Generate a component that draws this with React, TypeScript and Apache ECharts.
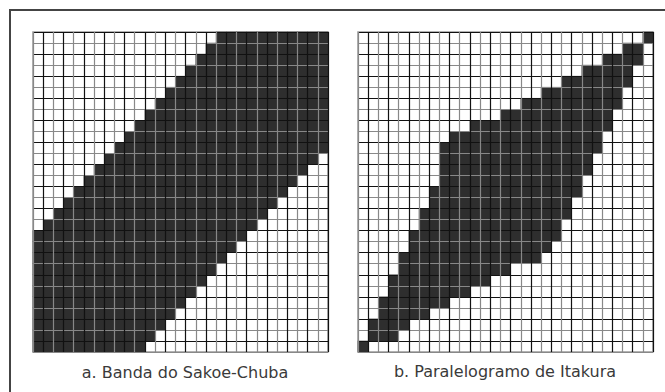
import React, { useEffect, useRef } from "react";
import * as echarts from "echarts";

// 29 x 29 cell grids (columns left to right, rows bottom to top)
const columns = Array.from({ length: 29 }, (_, i) => String(i + 1));
const rows = Array.from({ length: 29 }, (_, i) => String(i + 1));

// first / last dark column of each row, listed from the top row down
const sakoeStart = [18, 17, 16, 15, 14, 13, 12, 11, 10, 9, 8, 7, 6, 5, 4, 3, 2, 1, 0, 0, 0, 0, 0, 0, 0, 0, 0, 0, 0];
const sakoeEnd = [28, 28, 28, 28, 28, 28, 28, 28, 28, 28, 28, 27, 26, 25, 24, 23, 22, 21, 20, 19, 18, 17, 16, 15, 14, 13, 12, 11, 10];

const itakuraStart = [28, 26, 24, 22, 20, 18, 16, 14, 11, 9, 8, 8, 8, 8, 7, 7, 6, 6, 5, 5, 4, 4, 3, 3, 2, 2, 1, 1, 0];
const itakuraEnd = [28, 27, 27, 26, 26, 25, 25, 24, 24, 23, 23, 22, 22, 21, 21, 20, 20, 19, 19, 18, 17, 14, 12, 10, 8, 6, 4, 3, 0];

const captions = ["a. Banda do Sakoe-Chuba", "b. Paralelogramo de Itakura"];

function buildCells(start: number[], end: number[]) {
  const out: number[][] = [];
  const n = rows.length;
  start.forEach((s, k) => {
    for (let c = s; c <= end[k]; c++) out.push([c, n - 1 - k, 1]);
  });
  return out;
}

export default function App() {
  const ref = useRef<HTMLDivElement>(null);
  useEffect(() => {
    if (!ref.current) return;
    const chart = echarts.init(ref.current, undefined, { renderer: "svg" });
    const gridPos = [
      { left: 33, top: 32, width: 295, height: 320 },
      { left: 358, top: 32, width: 295, height: 320 },
    ];
    const axisCommon = {
      type: "category" as const,
      boundaryGap: true,
      z: 5,
      axisLine: { show: false },
      axisTick: { show: false },
      axisLabel: { show: false },
      splitLine: {
        show: true,
        interval: 0,
        lineStyle: { color: ["#888888", "#111111"], width: 1.2 },
      },
    };
    chart.setOption({
      animation: false,
      backgroundColor: "#ffffff",
      grid: gridPos.map((g) => ({
        ...g,
        show: true,
        borderColor: "#999999",
        borderWidth: 1.5,
        backgroundColor: "#ffffff",
      })),
      xAxis: [0, 1].map((i) => ({ ...axisCommon, gridIndex: i, data: columns })),
      yAxis: [0, 1].map((i) => ({ ...axisCommon, gridIndex: i, data: rows })),
      visualMap: {
        show: false,
        type: "piecewise",
        dimension: 2,
        pieces: [{ min: 0.5, max: 1.5, color: "#2e2e2e" }],
        seriesIndex: [0, 1],
      },
      series: [
        {
          type: "heatmap",
          xAxisIndex: 0,
          yAxisIndex: 0,
          data: buildCells(sakoeStart, sakoeEnd),
          itemStyle: { color: "#2e2e2e" },
          emphasis: { disabled: true },
        },
        {
          type: "heatmap",
          xAxisIndex: 1,
          yAxisIndex: 1,
          data: buildCells(itakuraStart, itakuraEnd),
          itemStyle: { color: "#2e2e2e" },
          emphasis: { disabled: true },
        },
      ],
      graphic: [
        {
          type: "line",
          shape: { x1: 9, y1: 10, x2: 665, y2: 10 },
          style: { stroke: "#444", lineWidth: 2 },
        },
        {
          type: "line",
          shape: { x1: 10, y1: 9, x2: 10, y2: 392 },
          style: { stroke: "#444", lineWidth: 2 },
        },
        {
          type: "text",
          x: 185,
          y: 372,
          style: {
            text: captions[0],
            font: "16px 'DejaVu Sans'",
            fill: "#3a3a3a",
            align: "center",
            verticalAlign: "middle",
          },
        },
        {
          type: "text",
          x: 505,
          y: 371,
          style: {
            text: captions[1],
            font: "16px 'DejaVu Sans'",
            fill: "#3a3a3a",
            align: "center",
            verticalAlign: "middle",
          },
        },
      ],
    });
    return () => chart.dispose();
  }, []);
  return (
    <div
      ref={ref}
      style={{ position: "fixed", left: 0, top: 0, width: 665, height: 392 }}
    />
  );
}
